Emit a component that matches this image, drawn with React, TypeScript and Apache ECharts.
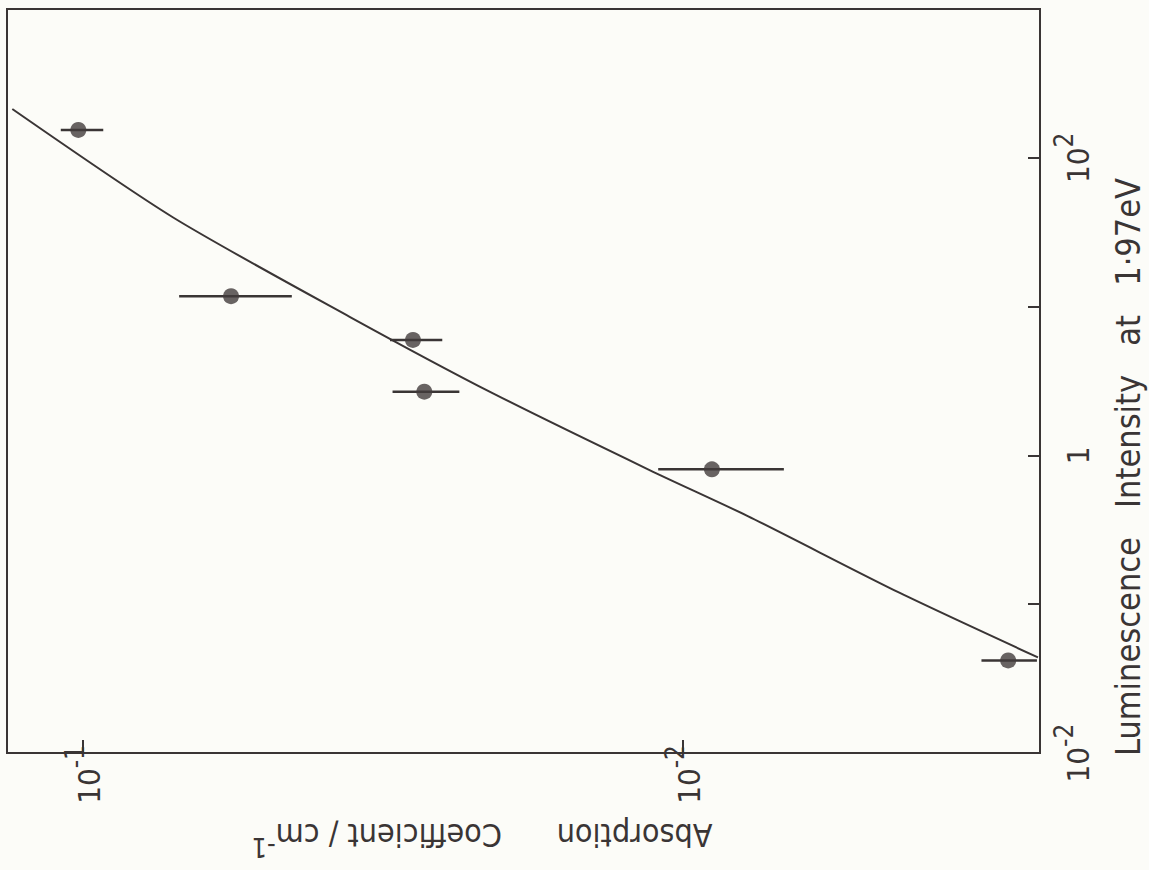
import React, { useEffect, useRef } from 'react';
import * as echarts from 'echarts';

// Measured data points (absorption coefficient cm^-1, luminescence intensity)
const absorption = [0.1019, 0.0567, 0.0282, 0.027, 0.00895, 0.00287];
const absLow = [0.0926, 0.0449, 0.0252, 0.0236, 0.00679, 0.00257];
const absHigh = [0.109, 0.0692, 0.0308, 0.0305, 0.011, 0.00318];
const luminescence = [154, 11.75, 5.97, 2.68, 0.806, 0.0419];

// Fitted curve
const fitAbsorption = [0.1313, 0.0708, 0.0359, 0.0207, 0.01135, 0.0078, 0.00435, 0.00256];
const fitLuminescence = [212.7, 39.7, 8.51, 2.6, 0.794, 0.391, 0.119, 0.0439];

// Tick labels
const xLabelValues = [0.1, 0.01];
const xLabelTexts = ['{b|10}{s|-1}', '{b|10}{s|-2}'];
const yLabelValues = [0.01, 1, 100];
const yLabelTexts = ['{b|10}{s|-2}', '{b|1}', '{b|10}{s|2}'];

const xTitle = '{t|Absorption      Coefficient / cm}{s|-1}';
const yTitle = 'Luminescence   Intensity   at   1·97eV';

const FONT = "'Liberation Sans Narrow', 'DejaVu Sans Condensed', 'DejaVu Sans', sans-serif";
const INK = '#3a3535';
const BG = '#fcfcf8';

function pick(values: number[], texts: string[], v: number): string {
  for (let i = 0; i < values.length; i++) {
    if (Math.abs(Math.log10(v) - Math.log10(values[i])) < 1e-6) return texts[i];
  }
  return '';
}

const labelRich = {
  b: { fontSize: 31, fontFamily: FONT, color: INK, lineHeight: 42, verticalAlign: 'bottom' },
  s: { fontSize: 26, fontFamily: FONT, color: INK, lineHeight: 42, verticalAlign: 'top' },
};

export default function App() {
  const ref = useRef<HTMLDivElement>(null);
  useEffect(() => {
    document.body.style.margin = '0';
    const chart = echarts.init(ref.current!, undefined, { renderer: 'svg' });
    const points = absorption.map((a, i) => [a, luminescence[i]]);
    const bars = absorption.map((a, i) => [absLow[i], absHigh[i], luminescence[i]]);
    const fit = fitAbsorption.map((a, i) => [a, fitLuminescence[i]]);
    chart.setOption({
      animation: false,
      backgroundColor: BG,
      grid: {
        left: 7,
        right: 109,
        top: 9,
        bottom: 117,
        show: true,
        borderColor: INK,
        borderWidth: 2,
        backgroundColor: 'transparent',
      },
      xAxis: {
        type: 'log',
        logBase: 10,
        inverse: true,
        min: 0.00254,
        max: 0.134,
        splitLine: { show: false },
        axisLine: { show: true, lineStyle: { color: INK, width: 2 } },
        axisTick: { show: true, inside: true, length: 13, lineStyle: { color: INK, width: 2 } },
        axisLabel: {
          rotate: 90,
          margin: -8,
          formatter: (v: number) => pick(xLabelValues, xLabelTexts, v),
          rich: labelRich,
        },
      },
      yAxis: {
        type: 'log',
        logBase: 10,
        position: 'right',
        min: 0.01,
        max: 1000,
        splitLine: { show: false },
        axisLine: { show: true, lineStyle: { color: INK, width: 2 } },
        axisTick: { show: true, inside: true, length: 12, lineStyle: { color: INK, width: 2 } },
        axisLabel: {
          rotate: 90,
          margin: 11,
          formatter: (v: number) => pick(yLabelValues, yLabelTexts, v),
          rich: labelRich,
        },
      },
      graphic: [
        {
          type: 'text',
          x: 482,
          y: 840,
          rotation: Math.PI,
          style: {
            text: xTitle,
            align: 'center',
            verticalAlign: 'middle',
            rich: {
              t: { fontSize: 32, fontFamily: FONT, fill: INK, lineHeight: 42, verticalAlign: 'bottom' },
              s: { fontSize: 27, fontFamily: FONT, fill: INK, lineHeight: 42, verticalAlign: 'top' },
            },
          },
        },
        {
          type: 'text',
          x: 1128,
          y: 467,
          rotation: Math.PI / 2,
          style: {
            text: yTitle,
            align: 'center',
            verticalAlign: 'middle',
            fontSize: 34,
            fontFamily: FONT,
            fill: INK,
          },
        },
      ],
      series: [
        {
          type: 'line',
          data: fit,
          smooth: 0.25,
          showSymbol: false,
          lineStyle: { color: INK, width: 2 },
          z: 2,
        },
        {
          type: 'custom',
          data: bars,
          renderItem: (params: any, api: any) => {
            const p1 = api.coord([api.value(0), api.value(2)]);
            const p2 = api.coord([api.value(1), api.value(2)]);
            return {
              type: 'line',
              shape: { x1: p1[0], y1: p1[1], x2: p2[0], y2: p2[1] },
              style: { stroke: INK, lineWidth: 2.5 },
            };
          },
          z: 3,
        },
        {
          type: 'scatter',
          data: points,
          symbol: 'circle',
          symbolSize: 16,
          itemStyle: { color: '#423c3c' },
          z: 4,
        },
      ],
    });
    return () => chart.dispose();
  }, []);
  return <div ref={ref} style={{ width: 1149, height: 870, background: BG }} />;
}
